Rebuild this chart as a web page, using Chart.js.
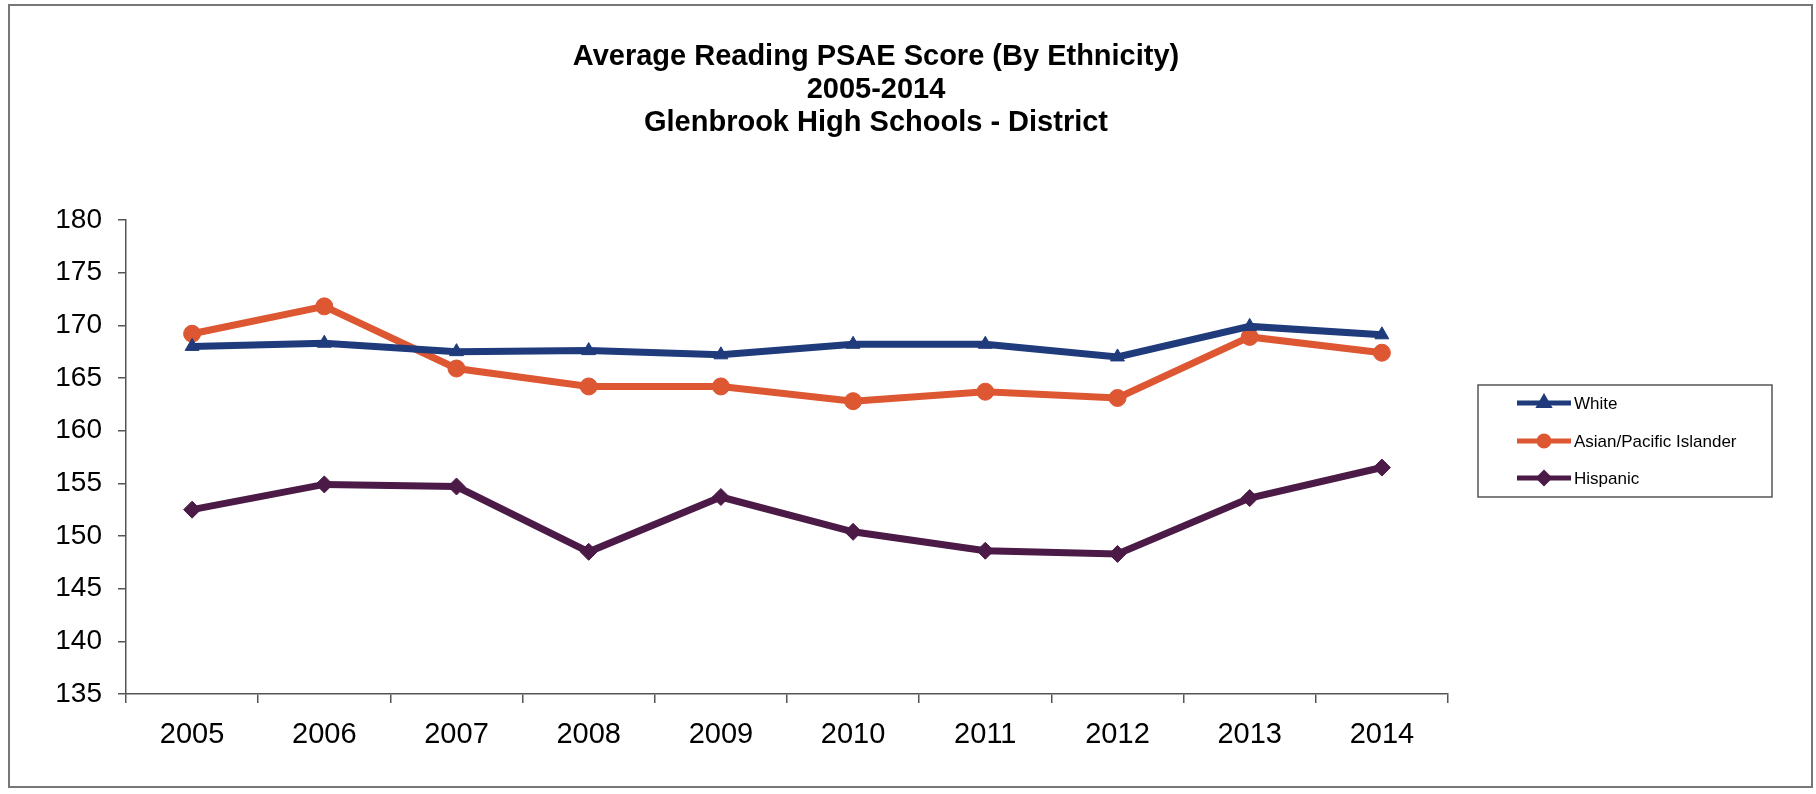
<!DOCTYPE html>
<html>
<head>
<meta charset="utf-8">
<title>Average Reading PSAE Score (By Ethnicity)</title>
<script src="https://cdn.jsdelivr.net/npm/chart.js@4.4.1/dist/chart.umd.min.js"></script>
<style>
  body { margin: 0; background: #fff; }
  #wrap { position: relative; width: 1816px; height: 794px; }
</style>
</head>
<body>
<div id="wrap"><canvas id="psaeChart" width="1816" height="794"></canvas></div>
<script>
// data
let years = ["2005", "2006", "2007", "2008", "2009", "2010", "2011", "2012", "2013", "2014"]
let white = [168.0, 168.3, 167.5, 167.6, 167.2, 168.2, 168.2, 167.0, 169.9, 169.1]
let asian = [169.2, 171.8, 165.9, 164.2, 164.2, 162.8, 163.7, 163.1, 168.9, 167.4]
let hispanic = [152.5, 154.9, 154.7, 148.5, 153.7, 150.4, 148.6, 148.3, 153.6, 156.5]
let seriesNames = ["White", "Asian/Pacific Islander", "Hispanic"]
let titleLines = ["Average Reading PSAE Score (By Ethnicity)", "2005-2014", "Glenbrook High Schools - District"]

let navy = "#1f3b7b"
let orange = "#dd5733"
let purple = "#4b1a46"
let font = "'Liberation Sans', Arial, sans-serif"

// page frame + title
const framePlugin = {
    id: "frame",
    beforeDraw(chart) {
        let ctx = chart.ctx
        ctx.save()
        ctx.fillStyle = "#fff"
        ctx.fillRect(0, 0, chart.width, chart.height)
        ctx.strokeStyle = "#777"
        ctx.lineWidth = 2
        ctx.strokeRect(9, 5, 1803, 782)
        ctx.fillStyle = "#000"
        ctx.font = "bold 29px " + font
        ctx.textAlign = "center"
        ctx.textBaseline = "middle"
        for (let i = 0; i < titleLines.length; i++) {
            ctx.fillText(titleLines[i], 876, 57 + i * 33)
        }
        ctx.restore()
    }
}

// boxed legend on the right, like the old excel one
const legendPlugin = {
    id: "boxlegend",
    afterDraw(chart) {
        let ctx = chart.ctx
        ctx.save()
        ctx.strokeStyle = "#555"
        ctx.lineWidth = 1.5
        ctx.strokeRect(1478, 385, 294, 112)
        let rows = [403, 441, 478]
        chart.data.datasets.forEach((ds, i) => {
            let y = rows[i]
            ctx.strokeStyle = ds.borderColor
            ctx.lineWidth = 5
            ctx.beginPath()
            ctx.moveTo(1517, y)
            ctx.lineTo(1571, y)
            ctx.stroke()
            Chart.helpers.drawPoint(ctx, { pointStyle: ds.pointStyle, radius: 5, rotation: 0, borderWidth: 1 }, 1544, y)
            ctx.fillStyle = ds.borderColor
            ctx.fill()
            ctx.fillStyle = "#000"
            ctx.font = "17px " + font
            ctx.textAlign = "left"
            ctx.textBaseline = "middle"
            ctx.fillText(ds.label, 1574, y + 1)
        })
        ctx.restore()
    }
}

function makeSet(label, values, color, style, r) {
    return {
        label: label,
        data: values,
        borderColor: color,
        backgroundColor: color,
        borderWidth: 7,
        pointStyle: style,
        pointRadius: r,
        pointHoverRadius: r,
        pointBorderWidth: 1,
        tension: 0
    }
}

const ctx = document.getElementById("psaeChart").getContext("2d")
const psaeChart = new Chart(ctx, {
    type: "line",
    data: {
        labels: years,
        datasets: [
            makeSet(seriesNames[0], white, navy, "triangle", 8),
            makeSet(seriesNames[1], asian, orange, "circle", 8.5),
            makeSet(seriesNames[2], hispanic, purple, "rectRot", 8.5)
        ]
    },
    options: {
        responsive: false,
        animation: false,
        layout: { padding: { top: 220, left: 0, right: 368, bottom: 0 } },
        plugins: {
            legend: { display: false },
            title: { display: false },
            tooltip: { enabled: false }
        },
        scales: {
            x: {
                offset: true,
                grid: { offset: true, drawOnChartArea: false, drawTicks: true, tickLength: 9, color: "#555", lineWidth: 1.5 },
                border: { color: "#555", width: 1.5 },
                ticks: { color: "#000", font: { family: font, size: 29 }, padding: 15 },
                afterFit: (scale) => { scale.height = 100 }
            },
            y: {
                min: 135,
                max: 180,
                ticks: { stepSize: 5, color: "#000", font: { family: font, size: 28 }, padding: 16 },
                grid: { drawOnChartArea: false, drawTicks: true, tickLength: 8, color: "#555", lineWidth: 1.5 },
                border: { color: "#555", width: 1.5 },
                afterFit: (scale) => { scale.width = 126 }
            }
        }
    },
    plugins: [framePlugin, legendPlugin]
})
</script>
</body>
</html>
